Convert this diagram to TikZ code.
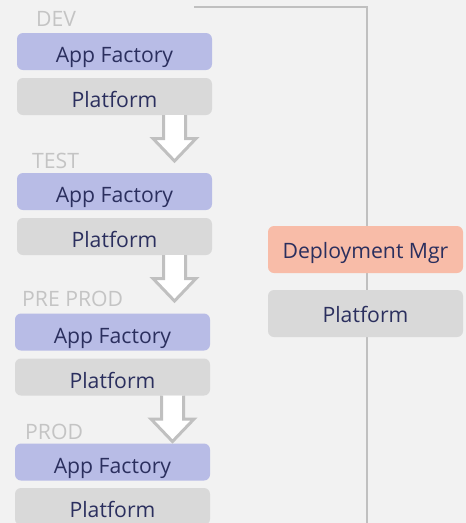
\documentclass[tikz,border=0pt]{standalone}
\usepackage{fontspec}
\setmainfont{Open Sans}
\usepackage{xcolor}
\usepackage{tikz}
\usetikzlibrary{calc, positioning}

\definecolor{pagebg}{HTML}{F2F2F2}
\definecolor{appblue}{HTML}{B8BCE6}
\definecolor{platgray}{HTML}{D9D9D9}
\definecolor{mgrsalmon}{HTML}{F8BCA8}
\definecolor{navytext}{HTML}{2B2F5E}
\definecolor{stagegray}{HTML}{C4C4C4}
\definecolor{linegray}{HTML}{C0C0C0}

\newcommand{\stagearrow}[1]{%
	\draw[flowarrow] ($(#1.south)+(49,0)$) -- ++(0,23.5) -- ++(-10.5,0)
		-- ++(21.5,22.5) -- ++(21.5,-22.5) -- ++(-10.5,0) -- ++(0,-23.5);}

\begin{document}
\begin{tikzpicture}[x=1pt, y=-1pt,
		font=\fontsize{21.2}{25}\selectfont,
		card/.style={rounded corners=6pt, minimum width=195pt, minimum height=37pt, inner sep=0pt, outer sep=0pt,
			text height=22pt, text depth=0pt, text=navytext},
		tallcard/.style={card, minimum height=47pt, text height=17pt},
		appbox/.style={card, fill=appblue},
		platbox/.style={card, fill=platgray},
		mgrbox/.style={tallcard, fill=mgrsalmon},
		stagelbl/.style={anchor=base west, inner sep=0pt, text=stagegray},
		flowarrow/.style={draw=linegray, line width=3pt, fill=white, line join=miter}]
			\fill[pagebg] (0,0) rectangle (466,523);
			\useasboundingbox (0,0) rectangle (466,523);
			\draw[linegray, line width=1.5pt] (194,7) -- (367,7) -- (367,523);
			\node[stagelbl] (devlbl) at (36,26) {DEV};
			\node[appbox] (devapp) at (114.5,51.5) {App Factory};
			\node[platbox] (devplat) at (114.5,96.5) {Platform};
			\node[stagelbl] (testlbl) at (32,168) {TEST};
			\node[appbox] (testapp) at (114.5,191.5) {App Factory};
			\node[platbox] (testplat) at (114.5,236.5) {Platform};
			\node[stagelbl] (pplbl) at (22,306) {PRE PROD};
			\node[appbox] (ppapp) at (112.5,332) {App Factory};
			\node[platbox] (ppplat) at (112.5,377) {Platform};
			\node[stagelbl] (prodlbl) at (25,439) {PROD};
			\node[appbox] (prodapp) at (112.5,462) {App Factory};
			\node[platbox] (prodplat) at (112.5,506.5) {Platform};
			\stagearrow{devplat}
			\stagearrow{testplat}
			\stagearrow{ppplat}
			\node[mgrbox] (depmgr) at (365.5,249.5) {Deployment Mgr};
			\node[platbox, tallcard] (mgrplat) at (365.5,313.5) {Platform};
		\end{tikzpicture}
\end{document}
